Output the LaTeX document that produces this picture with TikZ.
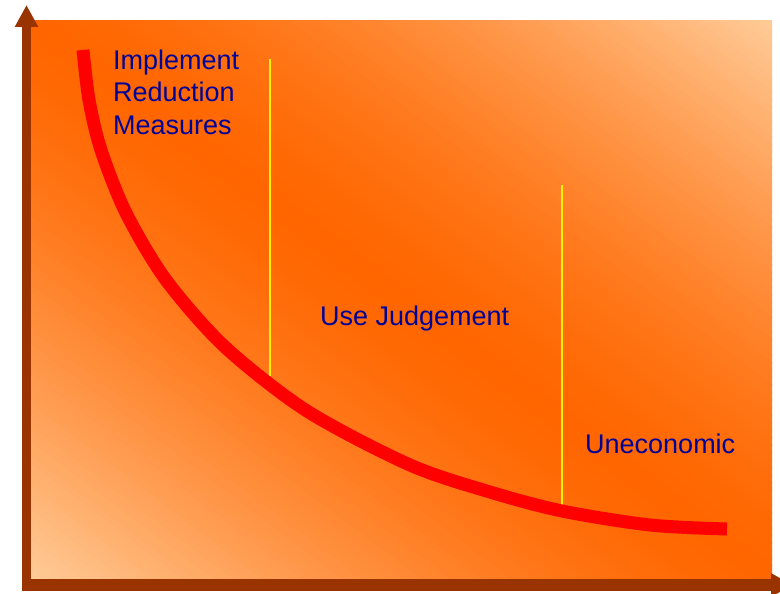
\documentclass[tikz,border=0pt]{standalone}
\usepackage{fontspec}
\setmainfont{Liberation Sans}
\usetikzlibrary{arrows.meta}
\definecolor{axisbrown}{HTML}{993300}
\definecolor{peach}{HTML}{FFCC99}
\definecolor{deeporange}{HTML}{FF6600}
\definecolor{labelblue}{HTML}{000099}
\tikzset{
  axis/.style={draw=axisbrown, -{Triangle[length=22pt,width=22pt]}},
  divider/.style={yellow, line width=2pt},
  costcurve/.style={red, line width=13pt},
  region/.style={text=labelblue, font=\fontsize{27}{33}\selectfont, inner sep=0, anchor=base west},
}

\begin{document}
\begin{tikzpicture}[x=1pt, y=-1pt]
\useasboundingbox (0,0) rectangle (780,594);
% background, in stripes along the diagonal
\begin{scope}
\clip (31,21) rectangle (772,580);
\begin{scope}[shift={(401.5,300.5)}, rotate=-37]
\foreach \d in {-450,-444,...,444} {
  \pgfmathsetmacro\mix{max(0,100*(1-(abs(\d+3)/446)^1.5))}
  \fill[deeporange!\mix!peach] (-700,\d) rectangle (700,\d+7);
}
\end{scope}
\end{scope}

\draw[divider] (270,59) -- (270,376);
\draw[divider] (562,185) -- (562,505);
\draw[costcurve] plot[smooth] coordinates {(83,50) (89,100) (101,150) (126,213) (166,280) (225,347) (307,411) (410,465) (490,492) (562,511) (650,525) (727,529)};

\node[region] (implement) at (113,70) {Implement};
\node[region] (reduction) at (113,102) {Reduction};
\node[region] (measures) at (113,135) {Measures};
\node[region] (judgement) at (320,325) {Use Judgement};
\node[region] (uneconomic) at (585,453) {Uneconomic};

\draw[axis, line width=9pt] (26.5,591) -- (26.5,5);
\draw[axis, line width=12pt] (22,585) -- (793,585);
\end{tikzpicture}
\end{document}
